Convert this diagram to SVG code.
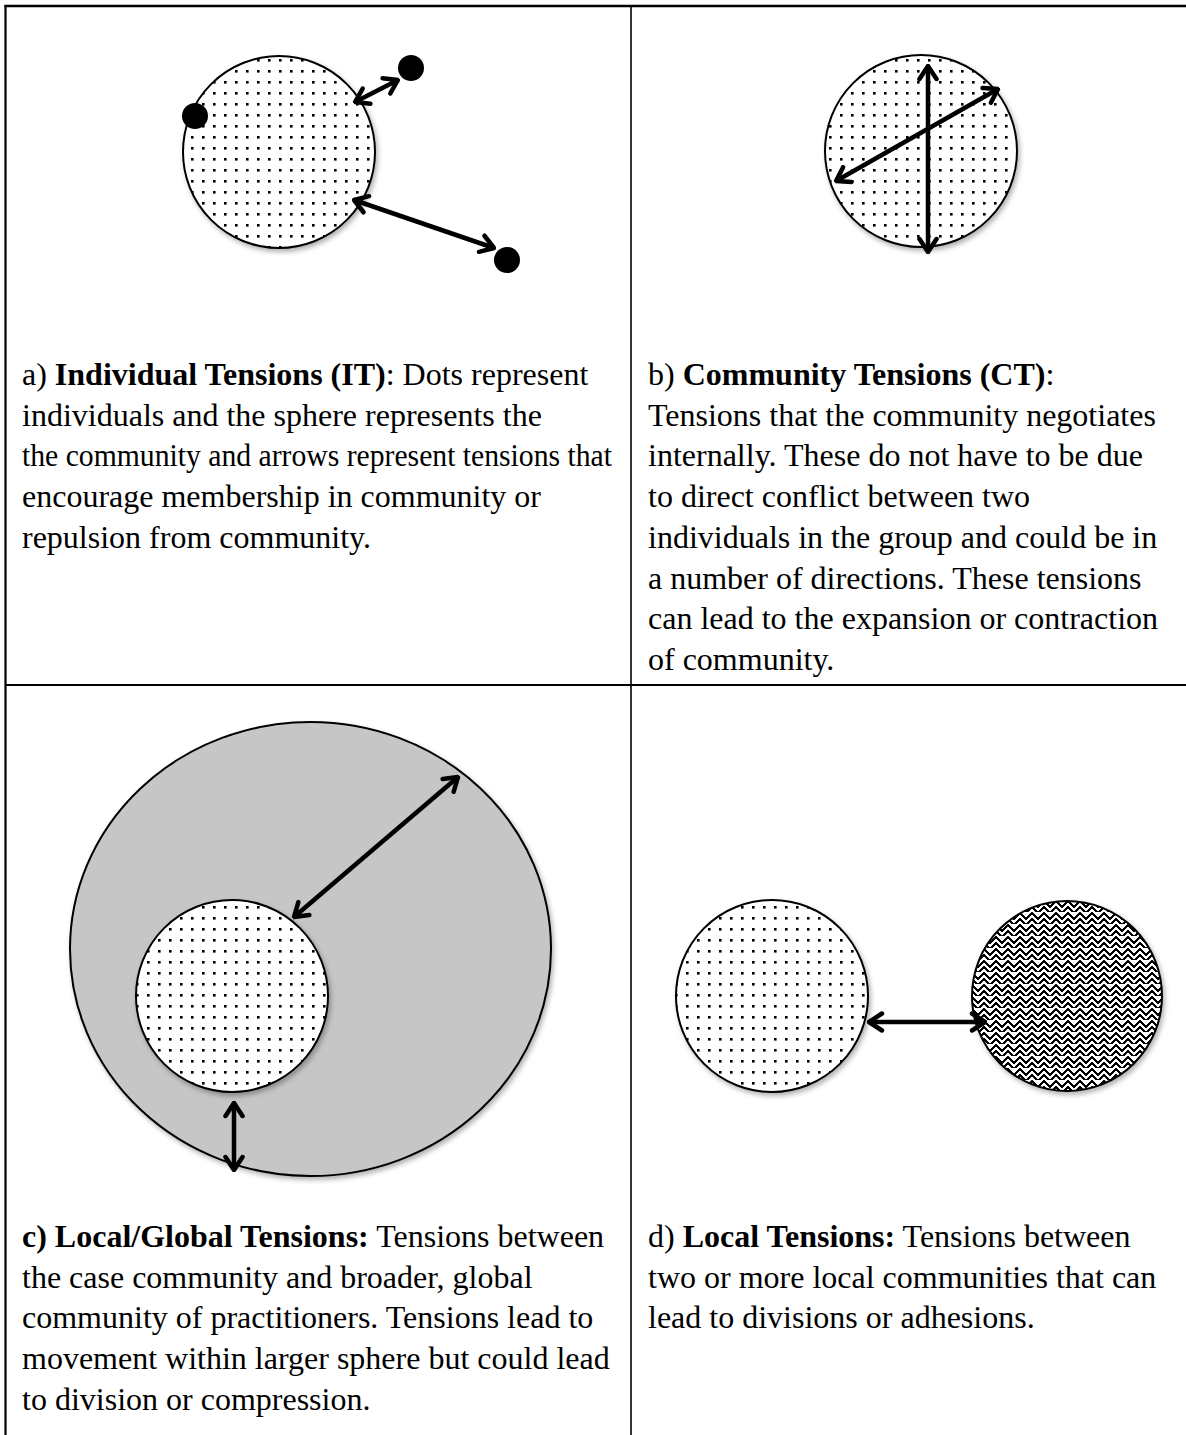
<svg xmlns="http://www.w3.org/2000/svg" width="1186" height="1435" viewBox="0 0 1186 1435">
<style>
.t{font-family:"Liberation Serif","Times New Roman",serif;font-size:32px;fill:#000}
.b{font-weight:bold}
.tbl{stroke:#000;fill:none}
.arr{stroke:#000;stroke-width:4.5;fill:none;marker-start:url(#ah);marker-end:url(#ah)}
.edge{stroke:#000;stroke-width:2}
</style>
<defs>
<pattern id="dots" width="11" height="11" patternUnits="userSpaceOnUse">
<rect x="4" y="4" width="2.6" height="2.6" fill="#000"/>
</pattern>
<pattern id="weave" width="12" height="12" patternUnits="userSpaceOnUse">
<path d="M0 1 L6 7 L12 1 M0 7 L3 10 M9 10 L12 7 M3 10 L6 13 L9 10" stroke="#000" stroke-width="1.5" fill="none" shape-rendering="crispEdges"/>
</pattern>
<marker id="ah" viewBox="0 0 18 22" refX="16" refY="11" markerWidth="18" markerHeight="22" markerUnits="userSpaceOnUse" orient="auto-start-reverse">
<path d="M3 2.5 L16 11 L3 19.5" stroke="#000" stroke-width="4.5" fill="none" stroke-linecap="round" stroke-linejoin="round"/>
</marker>
<filter id="sh" x="-10%" y="-10%" width="125%" height="125%">
<feDropShadow dx="2" dy="3" stdDeviation="2.5" flood-color="#000" flood-opacity="0.3"/>
</filter>
</defs>
<rect width="1186" height="1435" fill="#fff"/>
<g id="table">
<line class="tbl" x1="4.5" y1="6" x2="1186" y2="6" stroke-width="2.4"/>
<line class="tbl" x1="5.5" y1="5" x2="5.5" y2="1435" stroke-width="2.2"/>
<line class="tbl" x1="631" y1="6" x2="631" y2="1435" stroke-width="1.6"/>
<line class="tbl" x1="5" y1="685" x2="1186" y2="685" stroke-width="2.2"/>
</g>
<g id="panel-a">
<g id="a-community" filter="url(#sh)"><circle cx="279" cy="152" r="96" fill="#fff"/><circle cx="279" cy="152" r="96" fill="url(#dots)" class="edge"/></g>
<circle id="a-dot1" cx="195" cy="116" r="13" fill="#000"/>
<circle id="a-dot2" cx="411" cy="68" r="13" fill="#000"/>
<circle id="a-dot3" cx="507" cy="260" r="13" fill="#000"/>
</g>
<g id="panel-b">
<g id="b-community" filter="url(#sh)"><circle cx="921" cy="151" r="96" fill="#fff"/><circle cx="921" cy="151" r="96" fill="url(#dots)" class="edge"/></g>
</g>
<g id="panel-c">
<ellipse id="c-global" cx="310.5" cy="949" rx="240.5" ry="227" fill="#c6c6c6" class="edge" filter="url(#sh)"/>
<g id="c-local" filter="url(#sh)"><circle cx="232" cy="996" r="96" fill="#fff"/><circle cx="232" cy="996" r="96" fill="url(#dots)" class="edge"/></g>
</g>
<g id="panel-d">
<g id="d-local1" filter="url(#sh)"><circle cx="772" cy="996" r="96" fill="#fff"/><circle cx="772" cy="996" r="96" fill="url(#dots)" class="edge"/></g>
<g id="d-local2" filter="url(#sh)"><circle cx="1067" cy="996" r="95" fill="#fff"/><circle cx="1067" cy="996" r="95" fill="url(#weave)" class="edge"/></g>
</g>
<g id="connectors">
<line class="arr" x1="355" y1="102" x2="398" y2="80"/>
<line class="arr" x1="354" y1="200" x2="494" y2="248"/>
<line class="arr" x1="928" y1="66" x2="928" y2="252"/>
<line class="arr" x1="836" y1="181" x2="998" y2="89"/>
<line class="arr" x1="294" y1="917" x2="458" y2="777"/>
<line class="arr" x1="234" y1="1103" x2="234" y2="1170"/>
<line class="arr" x1="869" y1="1022" x2="985" y2="1022"/>
</g>
<g id="text-a">
<text class="t" x="22" y="385">a) <tspan class="b">Individual Tensions (IT)</tspan>: Dots represent</text>
<text class="t" x="22" y="425.7">individuals and the sphere represents the</text>
<text class="t" x="22" y="466.4" textLength="590" lengthAdjust="spacingAndGlyphs">the community and arrows represent tensions that</text>
<text class="t" x="22" y="507.1">encourage membership in community or</text>
<text class="t" x="22" y="547.8">repulsion from community.</text>
</g>
<g id="text-b">
<text class="t" x="648" y="385">b) <tspan class="b">Community Tensions (CT)</tspan>:</text>
<text class="t" x="648" y="425.7">Tensions that the community negotiates</text>
<text class="t" x="648" y="466.4">internally. These do not have to be due</text>
<text class="t" x="648" y="507.1">to direct conflict between two</text>
<text class="t" x="648" y="547.8">individuals in the group and could be in</text>
<text class="t" x="648" y="588.5">a number of directions. These tensions</text>
<text class="t" x="648" y="629.2">can lead to the expansion or contraction</text>
<text class="t" x="648" y="669.9">of community.</text>
</g>
<g id="text-c">
<text class="t" x="22" y="1247"><tspan class="b">c) Local/Global Tensions:</tspan> Tensions between</text>
<text class="t" x="22" y="1287.7">the case community and broader, global</text>
<text class="t" x="22" y="1328.4">community of practitioners. Tensions lead to</text>
<text class="t" x="22" y="1369.1">movement within larger sphere but could lead</text>
<text class="t" x="22" y="1409.8">to division or compression.</text>
</g>
<g id="text-d">
<text class="t" x="648" y="1247">d) <tspan class="b">Local Tensions:</tspan> Tensions between</text>
<text class="t" x="648" y="1287.7">two or more local communities that can</text>
<text class="t" x="648" y="1328.4">lead to divisions or adhesions.</text>
</g>
</svg>
